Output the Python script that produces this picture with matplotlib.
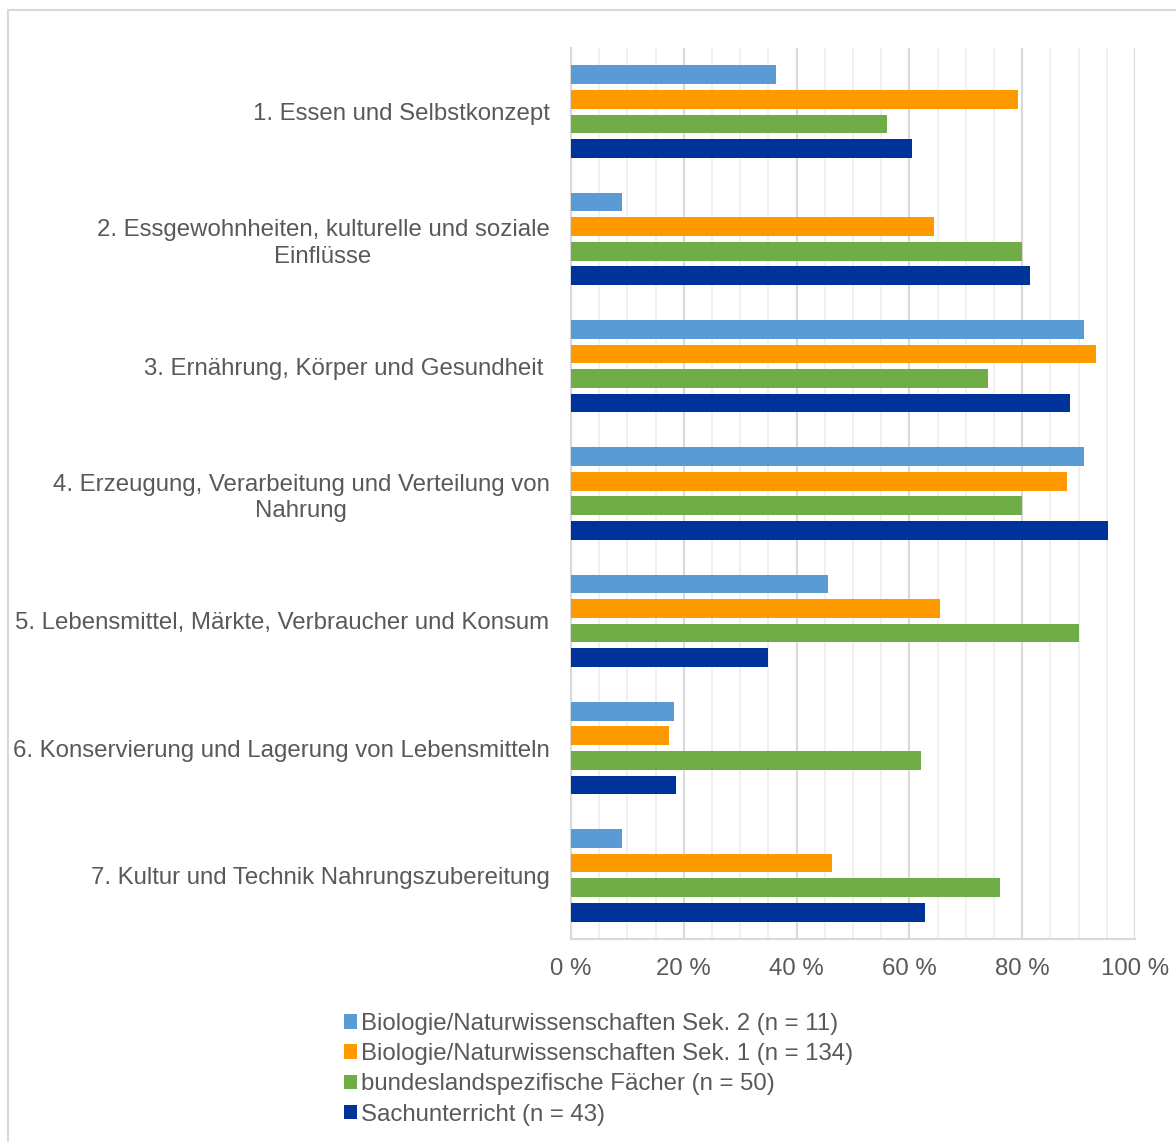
import numpy as np
from matplotlib import pyplot as plt
from matplotlib.patches import Rectangle

plt.rcParams["font.family"] = ["Liberation Sans", "DejaVu Sans"]

# Data (share in percent)
categories = [
    "1. Essen und Selbstkonzept",
    "2. Essgewohnheiten, kulturelle und soziale\nEinflüsse",
    "3. Ernährung, Körper und Gesundheit ",
    "4. Erzeugung, Verarbeitung und Verteilung von\nNahrung",
    "5. Lebensmittel, Märkte, Verbraucher und Konsum",
    "6. Konservierung und Lagerung von Lebensmitteln",
    "7. Kultur und Technik Nahrungszubereitung",
]
series_names = [
    "Biologie/Naturwissenschaften Sek. 2 (n = 11)",
    "Biologie/Naturwissenschaften Sek. 1 (n = 134)",
    "bundeslandspezifische Fächer (n = 50)",
    "Sachunterricht (n = 43)",
]
sek2 = [36.4, 9.1, 90.9, 90.9, 45.5, 18.2, 9.1]
sek1 = [79.3, 64.4, 93.0, 88.0, 65.4, 17.4, 46.3]
bundesland = [56.0, 80.0, 74.0, 80.0, 90.0, 62.0, 76.0]
sachunterricht = [60.5, 81.4, 88.4, 95.3, 34.9, 18.6, 62.8]
colors = ["#5B9BD5", "#FF9900", "#70AD47", "#003399"]
x_ticks = [0, 20, 40, 60, 80, 100]

TEXT = "#595959"
FS = 17.3

fig = plt.figure(figsize=(11.76, 11.42), dpi=100)
ax = fig.add_axes([571 / 1176, 1 - 939 / 1142, (1135 - 571) / 1176, (939 - 48) / 1142])

all_series = [sek2, sek1, bundesland, sachunterricht]
y = np.arange(len(categories))
pitch = 0.193
height = 0.148
for i, vals in enumerate(all_series):
    offs = (i - 1.5) * pitch
    ax.barh(y + offs, vals, height=height, color=colors[i], label=series_names[i], zorder=3)

ax.set_xlim(0, 100)
ax.set_ylim(len(categories) - 0.5, -0.5)
ax.set_yticks(y)
ax.set_yticklabels(categories, fontsize=FS, color=TEXT, ha="right", multialignment="center",
                   linespacing=1.25)
ax.set_xticks(x_ticks)
ax.set_xticklabels([f"{t} %" for t in x_ticks], fontsize=FS, color=TEXT)
ax.set_xticks(np.arange(0, 101, 5), minor=True)
ax.tick_params(axis="both", which="both", length=0)
ax.tick_params(axis="y", pad=15.5)
ax.tick_params(axis="x", pad=14)

ax.grid(axis="x", which="minor", color="#EEEEEE", linewidth=1.2, zorder=0)
ax.grid(axis="x", which="major", color="#D9D9D9", linewidth=1.5, zorder=0)
for s in ["top", "right"]:
    ax.spines[s].set_visible(False)
for s in ["left", "bottom"]:
    ax.spines[s].set_color("#D9D9D9")
    ax.spines[s].set_linewidth(1.5)

leg = fig.legend(loc="upper left", bbox_to_anchor=(344 / 1176, 1 - 1013 / 1142),
                 frameon=False, fontsize=FS, handlelength=0.55, handleheight=0.55,
                 handletextpad=0.15, labelspacing=0.34, borderpad=0, borderaxespad=0)
for t in leg.get_texts():
    t.set_color(TEXT)

# outer chart border
fig.patches.append(Rectangle((8 / 1176, -0.01), 1.0, 1 - 10 / 1142 + 0.01,
                             transform=fig.transFigure, fill=False,
                             edgecolor="#D9D9D9", linewidth=1.5))

fig.savefig("out.png", dpi=100)
